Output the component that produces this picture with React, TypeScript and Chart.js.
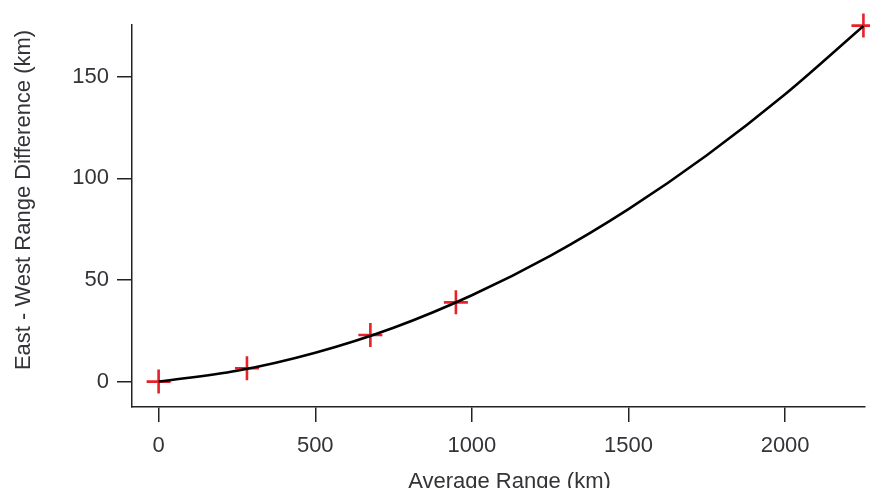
import React, { useEffect, useRef } from "react";
import { Chart, registerables } from "chart.js";

Chart.register(...registerables);

// Measured points (red crosses)
const avgRange = [0, 282, 676, 949, 2250];
const ewDiff = [0, 6.6, 22.9, 39.0, 175.2];

// Fitted curve
const fitRange = [0, 250, 500, 750, 1000, 1250, 1500, 1750, 2000, 2250];
const fitDiff = [0, 5.3, 14.2, 26.5, 42.5, 61.9, 84.9, 111.4, 141.4, 175];

const xTicks = [0, 500, 1000, 1500, 2000];
const yTicks = [0, 50, 100, 150];

const xTitle = "Average Range (km)";
const yTitle = "East - West Range Difference (km)";

const FONT = "'Liberation Sans', Arial, sans-serif";
const TEXT = "#333338";

const titlePlugin = {
  id: "axisTitles",
  afterDraw(chart: any) {
    const ctx = chart.ctx;
    const area = chart.chartArea;
    ctx.save();
    ctx.fillStyle = TEXT;
    ctx.font = `22px ${FONT}`;
    ctx.textAlign = "center";
    ctx.textBaseline = "alphabetic";
    ctx.fillText(xTitle, area.left + (area.right - area.left) * 0.515, 488);
    ctx.translate(30, area.top + (area.bottom - area.top) * 0.458);
    ctx.rotate(-Math.PI / 2);
    ctx.fillText(yTitle, 0, 0);
    ctx.restore();
  },
};

export default function App() {
  const ref = useRef<HTMLCanvasElement | null>(null);

  useEffect(() => {
    document.body.style.margin = "0";
    const canvas = ref.current!;
    const chart = new Chart(canvas, {
      type: "scatter",
      data: {
        datasets: [
          {
            label: "fit",
            data: fitRange.map((x, i) => ({ x, y: fitDiff[i] })),
            showLine: true,
            borderColor: "#000000",
            borderWidth: 2.5,
            pointRadius: 0,
            cubicInterpolationMode: "monotone",
            clip: false,
          },
          {
            label: "data",
            data: avgRange.map((x, i) => ({ x, y: ewDiff[i] })),
            showLine: false,
            pointStyle: "cross",
            pointRadius: 12,
            pointBorderWidth: 2.6,
            pointBorderColor: "#e8202a",
            pointBackgroundColor: "#e8202a",
            borderColor: "#e8202a",
            clip: false,
          },
        ],
      } as any,
      options: {
        animation: false,
        responsive: false,
        maintainAspectRatio: false,
        layout: {
          autoPadding: false,
          padding: { top: 25, right: 5, left: 0, bottom: 0 },
        },
        plugins: {
          legend: { display: false },
          tooltip: { enabled: false },
        },
        scales: {
          x: {
            type: "linear",
            min: -85,
            max: 2255,
            afterFit: (s: any) => {
              s.height = 81;
              s.paddingLeft = 0;
              s.paddingRight = 0;
            },
            afterBuildTicks: (s: any) => {
              s.ticks = xTicks.map((v) => ({ value: v }));
            },
            border: { display: true, color: "#222", width: 1.5 },
            grid: {
              drawOnChartArea: false,
              drawTicks: true,
              tickLength: 15,
              color: "#222",
              lineWidth: 1.5,
            },
            ticks: {
              color: TEXT,
              font: { family: FONT, size: 22 },
              padding: 11,
              maxRotation: 0,
              callback: (v: any) => String(v),
            },
          },
          y: {
            type: "linear",
            min: -12.5,
            max: 175.5,
            afterFit: (s: any) => {
              s.width = 132;
              s.paddingTop = 0;
              s.paddingBottom = 0;
            },
            afterBuildTicks: (s: any) => {
              s.ticks = yTicks.map((v) => ({ value: v }));
            },
            border: { display: true, color: "#222", width: 1.5 },
            grid: {
              drawOnChartArea: false,
              drawTicks: true,
              tickLength: 15,
              color: "#222",
              lineWidth: 1.5,
            },
            ticks: {
              color: TEXT,
              font: { family: FONT, size: 22 },
              padding: 8,
              callback: (v: any) => String(v),
            },
          },
        },
      } as any,
      plugins: [titlePlugin],
    });
    return () => chart.destroy();
  }, []);

  return (
    <div style={{ width: 870, height: 488, background: "#fff" }}>
      <canvas ref={ref} width={870} height={488} style={{ display: "block" }} />
    </div>
  );
}
